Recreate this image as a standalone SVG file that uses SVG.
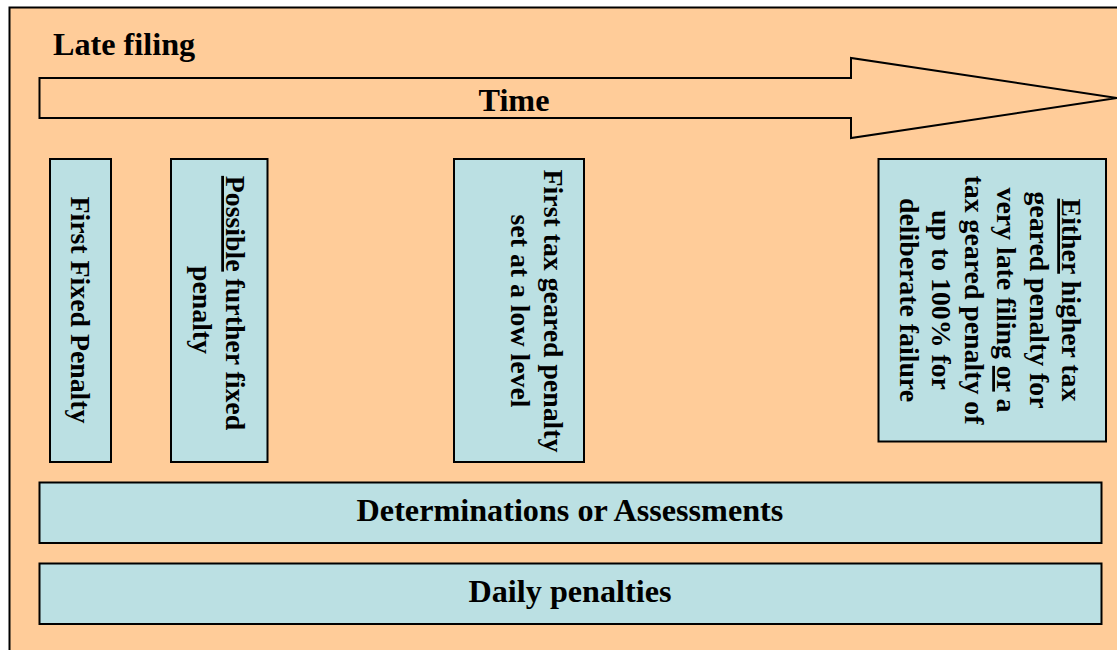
<svg xmlns="http://www.w3.org/2000/svg" width="1117" height="650" viewBox="0 0 1117 650">
<style>
.bg{fill:#FFCC99;stroke:#000;stroke-width:2}
.box{fill:#BBE0E3;stroke:#000;stroke-width:2}
.arrow{fill:#FFCC99;stroke:#000;stroke-width:2;stroke-linejoin:miter}
text{font-family:'Liberation Serif','DejaVu Serif',serif;font-weight:bold;fill:#000}
.h{font-size:32.2px}
.v{font-size:27.8px;text-anchor:middle}
.c{text-anchor:middle}
.u{text-decoration:underline}
</style>
<rect class="bg" x="9.5" y="7.5" width="1120" height="660"/>
<text class="h" x="53" y="55">Late filing</text>
<g id="time-arrow">
<polygon class="arrow" points="39.5,78 851,78 851,58 1117,98 851,138 851,118 39.5,118"/>
<text class="h c" x="514" y="111">Time</text>
</g>
<g id="connectors"/>
<g id="first-fixed-penalty">
<rect class="box" x="50" y="159" width="61" height="303"/>
<text class="v" transform="translate(71,310) rotate(90)">First Fixed Penalty</text>
</g>
<g id="further-fixed-penalty">
<rect class="box" x="171" y="159" width="96.5" height="303"/>
<text class="v" transform="translate(226,303) rotate(90)"><tspan class="u">Possible</tspan> further fixed</text>
<text class="v" transform="translate(192.5,310) rotate(90)">penalty</text>
</g>
<g id="first-tax-geared">
<rect class="box" x="454" y="159" width="130" height="303"/>
<text class="v" transform="translate(544,311) rotate(90)">First tax geared penalty</text>
<text class="v" transform="translate(511,311) rotate(90)">set at a low level</text>
</g>
<g id="higher-tax-geared">
<rect class="box" x="878.5" y="159" width="227.5" height="282.5"/>
<text class="v" transform="translate(1062,300) rotate(90)"><tspan class="u">Either</tspan> higher tax</text>
<text class="v" transform="translate(1029.5,300) rotate(90)">geared penalty for</text>
<text class="v" transform="translate(997,300) rotate(90)">very late filing <tspan class="u">or</tspan> a</text>
<text class="v" transform="translate(964.5,300) rotate(90)">tax geared penalty of</text>
<text class="v" transform="translate(932,300) rotate(90)">up to 100% for</text>
<text class="v" transform="translate(899.5,300) rotate(90)">deliberate failure</text>
</g>
<g id="determinations">
<rect class="box" x="39.5" y="482.5" width="1062" height="60.5"/>
<text class="h c" x="570" y="521">Determinations or Assessments</text>
</g>
<g id="daily-penalties">
<rect class="box" x="39.5" y="563.5" width="1062" height="60.5"/>
<text class="h c" x="570" y="602">Daily penalties</text>
</g>
</svg>
